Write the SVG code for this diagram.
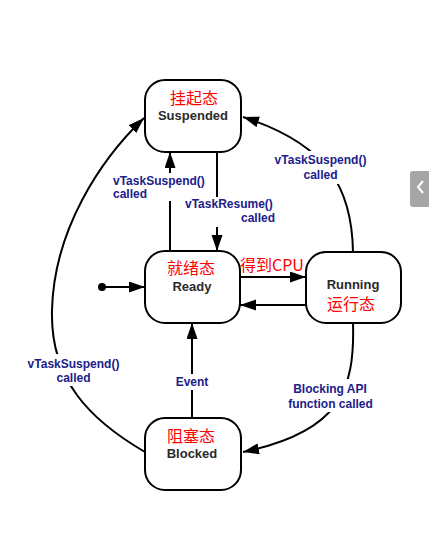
<svg xmlns="http://www.w3.org/2000/svg" width="429" height="540" viewBox="0 0 429 540">
<style>
.box{fill:#fff;stroke:#000;stroke-width:2}
.en{font-family:"Liberation Sans",Arial,sans-serif;font-weight:bold;font-size:13px;fill:#2a2a2a;text-anchor:middle}
.cn{font-family:"Noto Sans CJK SC",sans-serif;font-size:16px;fill:#f00;text-anchor:middle}
.lbl{font-family:"Liberation Sans",Arial,sans-serif;font-weight:bold;font-size:12px;fill:#20208a}
.ln{fill:none;stroke:#000;stroke-width:2}
.bg{fill:#fff}
</style>
<defs>
<marker id="ah" markerUnits="userSpaceOnUse" markerWidth="17" markerHeight="12" refX="16" refY="5.5" orient="auto">
<path d="M0,0 L16,5.5 L0,11 z" fill="#000"/>
</marker>
</defs>
<rect width="429" height="540" fill="#fff"/>
<g id="connectors">
<circle cx="102" cy="287" r="4" fill="#000"/>
<path class="ln" d="M102,287 L145,287" marker-end="url(#ah)"/>
<path class="ln" d="M170,251 L170,152" marker-end="url(#ah)"/>
<path class="ln" d="M217,152 L217,251" marker-end="url(#ah)"/>
<path class="ln" d="M240,277 L306,277" marker-end="url(#ah)"/>
<path class="ln" d="M306,305 L240,305" marker-end="url(#ah)"/>
<path class="ln" d="M192,418 L192,323" marker-end="url(#ah)"/>
<path class="ln" d="M353,252 C352,190 330,145 243,117" marker-end="url(#ah)"/>
<path class="ln" d="M353,323 C355,390 340,432 243,452" marker-end="url(#ah)"/>
<path class="ln" d="M145,452 C90,420 50,380 52,310 C54,230 100,160 144,118" marker-end="url(#ah)"/>
<rect class="bg" x="110" y="173" width="99" height="28"/>
<rect class="bg" x="183" y="197" width="94" height="30"/>
<rect class="bg" x="271" y="151" width="99" height="33"/>
<rect class="bg" x="24" y="354" width="99" height="32"/>
<rect class="bg" x="173" y="374" width="38" height="16"/>
<rect class="bg" x="285" y="379" width="91" height="33"/>
<text class="lbl" x="113" y="185">vTaskSuspend()</text>
<text class="lbl" x="113" y="198">called</text>
<text class="lbl" x="185" y="208">vTaskResume()</text>
<text class="lbl" x="275" y="222" text-anchor="end">called</text>
<text class="lbl" x="320.5" y="164" text-anchor="middle">vTaskSuspend()</text>
<text class="lbl" x="320.5" y="179" text-anchor="middle">called</text>
<text class="lbl" x="73.5" y="368" text-anchor="middle">vTaskSuspend()</text>
<text class="lbl" x="73.5" y="382" text-anchor="middle">called</text>
<text class="lbl" x="192" y="386" text-anchor="middle">Event</text>
<text class="lbl" x="330" y="393" text-anchor="middle">Blocking API</text>
<text class="lbl" x="330.5" y="408" text-anchor="middle">function called</text>
<text x="240" y="271" font-family="Noto Sans CJK SC,sans-serif" font-size="16" fill="#f00">得到CPU</text>
</g>
<g id="suspended">
<rect class="box" x="145" y="80" width="96" height="72" rx="20"/>
<text class="cn" x="194" y="104">挂起态</text>
<text class="en" x="193" y="120">Suspended</text>
</g>
<g id="ready">
<rect class="box" x="145" y="251" width="95" height="72" rx="20"/>
<text class="cn" x="191" y="274">就绪态</text>
<text class="en" x="192" y="291">Ready</text>
</g>
<g id="running">
<rect class="box" x="306" y="252" width="95" height="71" rx="20"/>
<text class="en" x="353" y="289">Running</text>
<text class="cn" x="351" y="310">运行态</text>
</g>
<g id="blocked">
<rect class="box" x="145" y="418" width="96" height="72" rx="20"/>
<text class="cn" x="191" y="442">阻塞态</text>
<text class="en" x="192" y="458">Blocked</text>
</g>
<g id="tab">
<path d="M413,171 L429,171 L429,207 L413,207 Q410,207 410,204 L410,174 Q410,171 413,171 z" fill="#a6a6a6"/>
<path d="M423,181 L418,187 L423,193" fill="none" stroke="#fff" stroke-width="2"/>
</g>
</svg>
